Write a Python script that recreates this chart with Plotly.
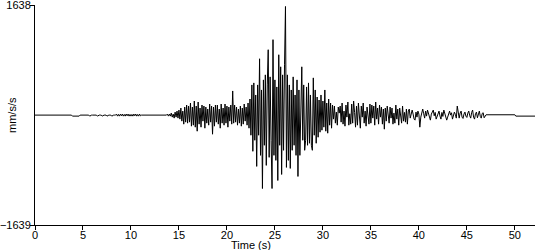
import numpy as np
import plotly.graph_objects as go

# Sample spacing of the record (s)
dt = 0.1

# Acceleration samples (mm/s/s), one row ~ 1 s
pre_event = [0] * 39  # 0.0–3.8 s
early_blips = [
    -15, -15, -15, -15, -15, -15, -15, -15,            # 3.9–4.6
    0, 0, 0,                                           # 4.7–4.9
    0, 0, 0, 0, 0, 0, 0, -15, 0, 0,                    # 5.0
    0, 0, 0, 0, 0, -15, 0, 0, 0, 0,                    # 6.0
    -15, 0, 0, 0, 0, -15, 0, 0, 0, 0,                  # 7.0
    -15, 0, 0, 0, 0, 15, -15, 10, -15, 15,             # 8.0
    -10, 15, -15, 10, -15, 15, -10, 15, -15, 10,       # 9.0
    -15, 10, -15, 15, -10, 15, -15, 10, -15, 15,       # 10.0
    -10, 0,                                            # 11.0–11.1
]
quiet_b = [0] * 25  # 11.2–13.6 s
shaking = [
    0, 15, -15,                                                    # 13.7
    15, -15, 30, -30, 15, -45, 45, -30, 60, -45,                   # 14
    75, -60, 105, -90, 60, -135, 120, -105, 150, -120,             # 15
    135, -105, 180, -165, 120, -150, 210, -180, 135, -240,         # 16
    195, -135, 105, -180, 150, -90, 135, -195, 120, -120,          # 17
    90, -150, 165, -105, 135, -285, 120, -165, 150, -105,          # 18
    150, -135, 90, -195, 165, -120, 105, -150, 165, -120,          # 19
    135, -180, 120, -90, 150, -135, 360, -120, 150, -105,          # 20
    120, -150, 90, -120, 135, -165, 105, -135, 165, -90,           # 21
    120, -150, 180, -195, 240, -300, 450, -540, 480, -375,         # 22
    300, -765, 450, -300, 840, -600, 375, -1095, 525, -450,        # 23
    600, -750, 450, 975, -630, 570, -375, -1095, 1125, -600,       # 24
    525, -675, 420, -975, 900, -450, 720, -885, 600, -525,         # 25
    750, 1620, -780, 600, -675, 450, -795, 375, -525, 570,         # 26
    -450, 300, -600, 525, -915, 375, -600, 450, 720, -375,         # 27
    450, -525, -375, 420, -450, 480, -420, 300, -450, -525,        # 28
    555, -300, 375, -420, 270, -330, 225, -255, 300, -225,         # 29
    210, -180, 375, -240, 180, -270, 240, -150, 180, -195,         # 30
    150, -60, 135, -120, 45, -150, 120, 30, 135, -105,             # 31
    180, -135, 60, -165, 150, -30, 195, -150, 20, -135,            # 32
    165, -120, 210, 40, -180, 135, -150, 180, -105, -195,          # 33
    135, -30, 180, -120, 60, -165, 120, 15, -135, 165,             # 34
    -120, 150, -45, 135, -150, 195, -60, 105, -135, 150,           # 35
    -30, 120, -135, 90, -210, 105, -90, 135, 20, -120,             # 36
    120, -45, 105, -135, 30, -120, 150, -60, 90, -150,             # 37
    105, 0, -120, 135, -90, 40, -105, 90, -135, 60,                # 38
    90, -45, 30, 75, 15, -60, -75, 45, -30, 60,                    # 39
    15, -180, -30, 45, 90, 20, -45, 60, -15, 75,                   # 40
    30, -30, -75, 15, 45, 75, -10, 40, -60, -15,                   # 41
    30, 60, -15, -60, 40, -20, 75, 15, -45, -75,                   # 42
    -30, 15, 60, 0, 35, -60, -15, 45, 10, -45,                     # 43
    135, 20, -45, 30, 60, -30, -50, 15, 45, -15,                   # 44
    -35, 30, 60, -10, -45, 40, 75, -30, -60, 20,                   # 45
    45, -40, 15, 60, -20, -45, 25, 35, -40, -10,                   # 46
]
post_event_a = [5] * 31    # 47.0–50.0 s
post_event_b = [-15] * 21  # 50.1–52.1 s

accel = pre_event + early_blips + quiet_b + shaking + post_event_a + post_event_b
time = np.round(np.arange(len(accel)) * dt, 2)

x_ticks = [0, 5, 10, 15, 20, 25, 30, 35, 40, 45, 50]
y_ticks = [-1639, 1638]

fig = go.Figure(
    go.Scatter(x=time, y=accel, mode="lines",
               line=dict(color="black", width=1), hoverinfo="skip")
)

fig.update_layout(
    width=550, height=250,
    margin=dict(l=35, r=15, t=5, b=25, autoexpand=False),
    paper_bgcolor="white", plot_bgcolor="white",
    font=dict(family="Liberation Sans", size=11, color="black"),
    showlegend=False,
    xaxis=dict(range=[0, 52.1], tickvals=x_ticks, ticks="outside", ticklen=4,
               tickcolor="black", showline=True, linecolor="black", linewidth=1,
               showgrid=False, zeroline=False, automargin=False,
               ticklabelstandoff=-4),
    yaxis=dict(range=[-1639, 1642], tickvals=y_ticks, ticks="outside", ticklen=4,
               tickcolor="black", showline=True, linecolor="black", linewidth=1,
               showgrid=False, zeroline=False, automargin=False,
               ticklabelstandoff=-3, ticklabeloverflow="allow"),
    annotations=[
        dict(text="Time (s)", xref="paper", yref="paper", x=0.432, y=-0.09,
             xanchor="center", yanchor="middle", showarrow=False, borderpad=0),
        dict(text="mm/s/s", xref="paper", yref="paper", x=-0.046, y=0.5,
             xanchor="center", yanchor="middle", textangle=-90, showarrow=False),
    ],
)

fig.write_html("out.html")
